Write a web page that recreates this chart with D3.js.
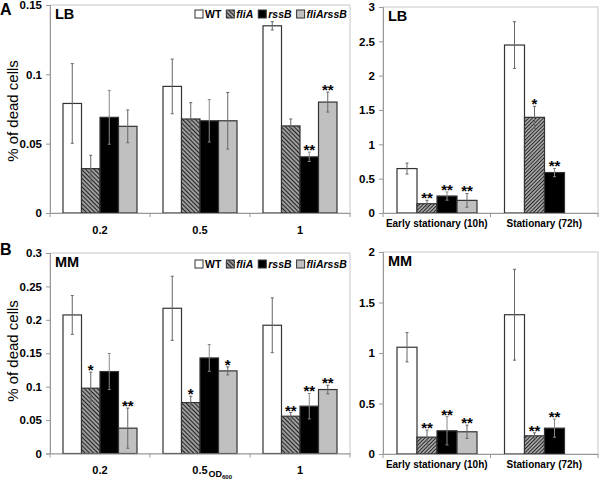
<!DOCTYPE html>
<html>
<head>
<meta charset="utf-8">
<script src="https://cdn.jsdelivr.net/npm/d3@7"></script>
<style>
  body { margin: 0; background: #fff; }
  svg { font-family: "Liberation Sans", Arial, sans-serif; }
</style>
</head>
<body>
<svg id="chart" width="600" height="484"></svg>
<script>
// strains and x categories
const series = ['WT', 'fliA', 'rssB', 'fliArssB']
const odLevels = ['0.2', '0.5', '1']
const phases = ['Early stationary (10h)', 'Stationary (72h)']

// A: LB, by OD600
const lbOdMean = [[0.079, 0.032, 0.069, 0.0625], [0.0913, 0.0678, 0.0665, 0.0665], [0.135, 0.0628, 0.0405, 0.080]]
const lbOdErr = [[0.0287, 0.0096, 0.0194, 0.0118], [0.0197, 0.0118, 0.0153, 0.0204], [0.003, 0.005, 0.0034, 0.0072]]
const lbOdStars = [['', '', '', ''], ['', '', '', ''], ['', '', '**', '**']]
const lbOdTicks = [0, 0.05, 0.1, 0.15]

// A: LB, stationary phase
const lbPhaseMean = [[0.647, 0.135, 0.247, 0.184], [2.446, 1.393, 0.589]]
const lbPhaseErr = [[0.08, 0.05, 0.06, 0.1], [0.34, 0.16, 0.06]]
const lbPhaseStars = [['', '**', '**', '**'], ['', '*', '**']]
const lbPhaseTicks = [0, 0.5, 1, 1.5, 2, 2.5, 3]

// B: MM, by OD600
const mmOdMean = [[0.2073, 0.0977, 0.1226, 0.0379], [0.2173, 0.0762, 0.143, 0.1236], [0.1919, 0.0558, 0.0708, 0.0957]]
const mmOdErr = [[0.029, 0.024, 0.027, 0.03], [0.048, 0.0095, 0.02, 0.006], [0.041, 0.0055, 0.019, 0.0065]]
const mmOdStars = [['', '*', '', '**'], ['', '*', '', '*'], ['', '**', '**', '**']]
const mmOdTicks = [0, 0.05, 0.1, 0.15, 0.2, 0.25, 0.3]

// B: MM, stationary phase
const mmPhaseMean = [[1.057, 0.167, 0.23, 0.22], [1.379, 0.18, 0.256]]
const mmPhaseErr = [[0.145, 0.07, 0.14, 0.066], [0.45, 0.03, 0.09]]
const mmPhaseStars = [['', '**', '**', '**'], ['', '**', '**']]
const mmPhaseTicks = [0, 0.5, 1, 1.5, 2]

const svg = d3.select('#chart')
const defs = svg.append('defs')

const makeHatch = (id, size, angle, stroke, sw) => {
    const p = defs.append('pattern')
        .attr('id', id)
        .attr('patternUnits', 'userSpaceOnUse')
        .attr('width', size)
        .attr('height', size)
        .attr('patternTransform', `rotate(${angle})`)
    p.append('rect').attr('width', size).attr('height', size).attr('fill', '#fff')
    p.append('line')
        .attr('x1', size / 2).attr('x2', size / 2)
        .attr('y1', 0).attr('y2', size)
        .attr('stroke', stroke)
        .attr('stroke-width', sw)
}
makeHatch('hatchL', 3, -45, '#222', 1.9)
makeHatch('hatchR', 2.6, 45, '#222', 1.6)

const fillFor = (s, hatch) => ({
    WT: '#fff',
    fliA: `url(#${hatch})`,
    rssB: '#000',
    fliArssB: '#c0c0c0'
})[s]

const panel = cfg => {

    const g = svg.append('g')

    const y = d3.scaleLinear()
        .domain([0, cfg.ticks[cfg.ticks.length - 1]])
        .range([cfg.yZero, cfg.yTop])

    const x = d3.scaleBand()
        .domain(cfg.cats)
        .range([cfg.x0, cfg.x1])

    const xs = d3.scaleBand()
        .domain(series)
        .range(cfg.inner)

    // plot frame
    g.append('rect')
        .attr('x', cfg.x0)
        .attr('y', cfg.yTop)
        .attr('width', cfg.x1 - cfg.x0)
        .attr('height', cfg.yZero - cfg.yTop)
        .attr('fill', 'none')
        .attr('stroke', '#c8c8c8')

    const rows = cfg.mean.flatMap((vals, i) => vals.map((v, j) => ({
        cat: cfg.cats[i],
        s: series[j],
        v,
        e: cfg.err[i][j],
        star: cfg.stars[i][j]
    })))

    const bars = g.selectAll('g.bar')
        .data(rows)
        .enter()
        .append('g')
        .attr('class', 'bar')
        .attr('transform', d => `translate(${x(d.cat)},0)`)

    bars.append('rect')
        .attr('x', d => xs(d.s))
        .attr('y', d => y(d.v))
        .attr('width', xs.bandwidth())
        .attr('height', d => y(0) - y(d.v))
        .attr('fill', d => fillFor(d.s, cfg.hatch))
        .attr('stroke', '#333')
        .attr('stroke-width', 1.2)

    const cx = d => xs(d.s) + xs.bandwidth() / 2

    bars.append('path')
        .attr('d', d => {
            const t = y(d.v + d.e), b = y(d.v - d.e), c = cx(d)
            return `M${c},${t}V${b}M${c - 1.5},${t}H${c + 1.5}M${c - 1.5},${b}H${c + 1.5}`
        })
        .attr('stroke', d => d.s === 'rssB' ? '#888' : '#666')
        .attr('stroke-width', 1)
        .attr('fill', 'none')

    bars.append('text')
        .attr('x', cx)
        .attr('y', d => y(d.v + d.e) + 3)
        .attr('text-anchor', 'middle')
        .attr('font-weight', 'bold')
        .attr('font-size', 15)
        .text(d => d.star)

    // y axis
    const ya = g.append('g')
        .attr('transform', `translate(${cfg.x0},0)`)
        .call(d3.axisLeft(y).tickValues(cfg.ticks).tickSize(4).tickPadding(4).tickFormat(d3.format('~g')))
    ya.select('.domain').attr('stroke', '#999')
    ya.selectAll('.tick line').attr('stroke', '#999')
    ya.selectAll('.tick text')
        .attr('font-size', 11.5)
        .attr('font-weight', 'bold')
        .attr('font-family', '"Liberation Sans", Arial, sans-serif')
        .attr('fill', '#000')

    // x axis
    const xa = g.append('g')
        .attr('transform', `translate(0,${cfg.yZero})`)
        .call(d3.axisBottom(x).tickSize(0).tickPadding(cfg.labelPad))
    xa.select('.domain').attr('stroke', '#999')
    xa.selectAll('.tick text')
        .attr('font-size', cfg.labelSize)
        .attr('font-weight', 'bold')
        .attr('font-family', '"Liberation Sans", Arial, sans-serif')
        .attr('fill', '#000')

    const edges = cfg.cats.map(c => x(c)).concat([cfg.x1])
    xa.selectAll('line.edge')
        .data(edges)
        .enter()
        .append('line')
        .attr('class', 'edge')
        .attr('x1', d => d).attr('x2', d => d)
        .attr('y1', 0).attr('y2', 4)
        .attr('stroke', '#999')

    // medium label
    g.append('text')
        .attr('x', cfg.x0 + 5)
        .attr('y', cfg.yTop + 14)
        .attr('font-size', 14.5)
        .attr('font-weight', 'bold')
        .text(cfg.medium)

    return { x, y, g }
}

const legend = (yc) => {
    const lg = svg.append('g')
    let cx = 195
    series.forEach(s => {
        lg.append('rect')
            .attr('x', cx)
            .attr('y', yc - 4)
            .attr('width', 8)
            .attr('height', 8)
            .attr('fill', fillFor(s, 'hatchL'))
            .attr('stroke', '#333')
            .attr('stroke-width', 1)
        const t = lg.append('text')
            .attr('x', cx + 10)
            .attr('y', yc + 4)
            .attr('font-size', 10.5)
            .attr('font-weight', 'bold')
            .attr('font-style', s === 'WT' ? 'normal' : 'italic')
            .text(s)
        cx += 10 + t.node().getComputedTextLength() + 5
    })
}

const ylabel = yc => {
    svg.append('text')
        .attr('transform', `translate(18,${yc}) rotate(-90)`)
        .attr('text-anchor', 'middle')
        .attr('font-size', 15)
        .text('% of dead cells')
}

const letter = (t, yb) => {
    svg.append('text')
        .attr('x', 0)
        .attr('y', yb)
        .attr('font-size', 16)
        .attr('font-weight', 'bold')
        .text(t)
}

// A
panel({ x0: 50, x1: 350, yTop: 5, yZero: 213, ticks: lbOdTicks, cats: odLevels,
    mean: lbOdMean, err: lbOdErr, stars: lbOdStars, inner: [13, 87], hatch: 'hatchL',
    medium: 'LB', labelPad: 13, labelSize: 11 })
panel({ x0: 383, x1: 598, yTop: 7, yZero: 213, ticks: lbPhaseTicks, cats: phases,
    mean: lbPhaseMean, err: lbPhaseErr, stars: lbPhaseStars, inner: [14, 94], hatch: 'hatchR',
    medium: 'LB', labelPad: 7, labelSize: 10 })
legend(14)
ylabel(111)
letter('A', 15)

// B
const bl = panel({ x0: 50, x1: 350, yTop: 253, yZero: 453.5, ticks: mmOdTicks, cats: odLevels,
    mean: mmOdMean, err: mmOdErr, stars: mmOdStars, inner: [13, 87], hatch: 'hatchL',
    medium: 'MM', labelPad: 13, labelSize: 11 })
panel({ x0: 383, x1: 598, yTop: 252, yZero: 454, ticks: mmPhaseTicks, cats: phases,
    mean: mmPhaseMean, err: mmPhaseErr, stars: mmPhaseStars, inner: [14, 94], hatch: 'hatchR',
    medium: 'MM', labelPad: 7, labelSize: 10 })
legend(264)
ylabel(351)
letter('B', 255)

// OD600 subscript after the middle tick
const od = svg.append('text')
    .attr('x', bl.x('0.5') + bl.x.bandwidth() / 2 + 8.5)
    .attr('y', 477)
    .attr('font-size', 9)
    .attr('font-weight', 'bold')
od.append('tspan').text('OD')
od.append('tspan').attr('font-size', 6).attr('dy', 1.5).text('600')
</script>
</body>
</html>
